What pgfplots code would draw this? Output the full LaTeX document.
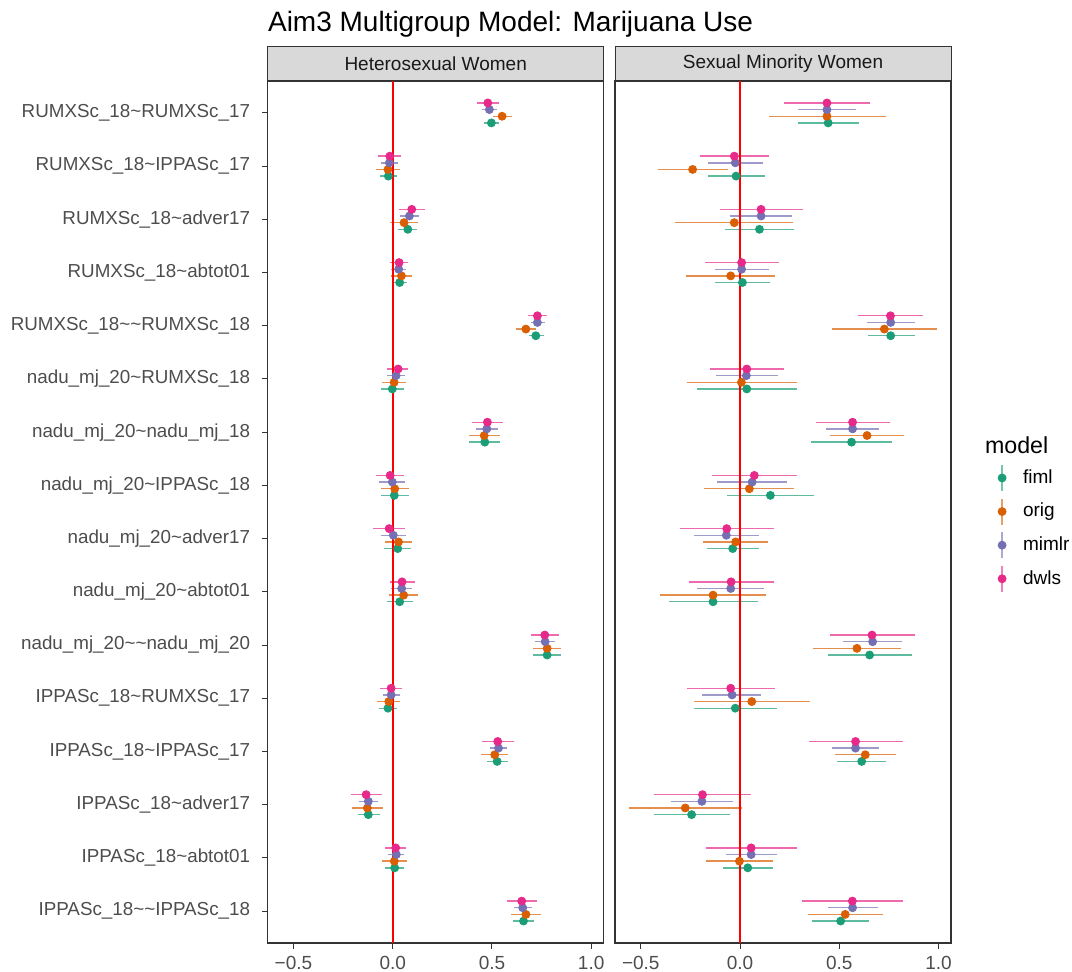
\documentclass[border=0pt]{standalone}
\usepackage{pgfplots}
\pgfplotsset{compat=1.18}
\usepackage{pgfplotstable}
\usepackage{fontspec}
\setmainfont{Liberation Sans}
\definecolor{cfiml}{HTML}{1B9E77}
\definecolor{corig}{HTML}{D95F02}
\definecolor{cmimlr}{HTML}{7570B3}
\definecolor{cdwls}{HTML}{E7298A}
\definecolor{gthirty}{HTML}{4D4D4D}
\definecolor{gtwenty}{HTML}{333333}
\definecolor{stripfill}{HTML}{D9D9D9}

% Heterosexual Women
\pgfplotstableread{
row fx flo fhi ox olo ohi mx mlo mhi dx dlo dhi
1 0.497 0.459 0.536 0.551 0.504 0.600 0.487 0.449 0.526 0.479 0.425 0.534
2 -0.022 -0.064 0.022 -0.024 -0.084 0.039 -0.017 -0.059 0.029 -0.015 -0.074 0.042
3 0.076 0.029 0.124 0.057 -0.013 0.129 0.084 0.035 0.134 0.096 0.030 0.163
4 0.035 -0.005 0.074 0.044 -0.008 0.099 0.030 -0.010 0.066 0.032 -0.015 0.079
5 0.721 0.686 0.760 0.671 0.620 0.723 0.729 0.696 0.766 0.729 0.681 0.778
6 -0.002 -0.061 0.059 0.007 -0.054 0.069 0.017 -0.030 0.064 0.027 -0.029 0.079
7 0.464 0.385 0.543 0.461 0.382 0.539 0.474 0.418 0.529 0.477 0.398 0.555
8 0.008 -0.061 0.081 0.010 -0.061 0.081 -0.002 -0.067 0.064 -0.013 -0.086 0.059
9 0.025 -0.044 0.092 0.029 -0.040 0.097 0.003 -0.061 0.069 -0.018 -0.099 0.064
10 0.035 -0.030 0.103 0.055 -0.018 0.129 0.045 -0.010 0.099 0.047 -0.015 0.111
11 0.778 0.708 0.850 0.778 0.708 0.850 0.768 0.718 0.820 0.766 0.696 0.839
12 -0.024 -0.069 0.022 -0.020 -0.081 0.039 -0.008 -0.050 0.037 -0.008 -0.064 0.049
13 0.526 0.474 0.580 0.514 0.445 0.583 0.533 0.491 0.575 0.529 0.452 0.610
14 -0.123 -0.176 -0.066 -0.128 -0.205 -0.047 -0.123 -0.170 -0.072 -0.134 -0.210 -0.055
15 0.010 -0.037 0.059 0.008 -0.055 0.074 0.018 -0.025 0.059 0.015 -0.040 0.069
16 0.659 0.605 0.714 0.671 0.598 0.746 0.655 0.610 0.701 0.650 0.576 0.726
}\hetero

% Sexual Minority Women
\pgfplotstableread{
row fx flo fhi ox olo ohi mx mlo mhi dx dlo dhi
1 0.444 0.290 0.598 0.438 0.145 0.734 0.438 0.291 0.584 0.438 0.221 0.655
2 -0.020 -0.162 0.125 -0.239 -0.414 -0.062 -0.024 -0.162 0.118 -0.029 -0.204 0.148
3 0.098 -0.076 0.273 -0.029 -0.328 0.269 0.106 -0.049 0.261 0.106 -0.103 0.316
4 0.012 -0.128 0.150 -0.047 -0.273 0.178 0.008 -0.126 0.146 0.008 -0.177 0.194
5 0.759 0.645 0.880 0.727 0.463 0.992 0.759 0.640 0.882 0.758 0.596 0.923
6 0.034 -0.219 0.288 0.007 -0.269 0.285 0.032 -0.123 0.189 0.034 -0.152 0.222
7 0.562 0.357 0.768 0.640 0.453 0.825 0.567 0.434 0.700 0.567 0.382 0.754
8 0.153 -0.066 0.374 0.047 -0.182 0.274 0.061 -0.114 0.236 0.072 -0.141 0.285
9 -0.037 -0.167 0.096 -0.022 -0.187 0.143 -0.069 -0.234 0.096 -0.067 -0.305 0.172
10 -0.136 -0.360 0.088 -0.136 -0.404 0.131 -0.047 -0.217 0.123 -0.045 -0.259 0.170
11 0.653 0.443 0.864 0.589 0.367 0.810 0.668 0.519 0.818 0.665 0.453 0.880
12 -0.024 -0.232 0.185 0.059 -0.232 0.352 -0.040 -0.190 0.108 -0.047 -0.268 0.177
13 0.613 0.490 0.737 0.631 0.476 0.786 0.582 0.463 0.702 0.582 0.347 0.820
14 -0.244 -0.436 -0.049 -0.276 -0.557 0.010 -0.192 -0.348 -0.034 -0.189 -0.431 0.056
15 0.039 -0.088 0.168 -0.003 -0.173 0.168 0.056 -0.072 0.184 0.056 -0.173 0.285
16 0.507 0.364 0.650 0.530 0.342 0.721 0.567 0.441 0.694 0.566 0.313 0.820
}\minority

\pgfplotsset{
  facet/.style={
    scale only axis, width=168pt, height=431pt,
    xmin=-0.63, xmax=1.063, ymin=0.4, ymax=16.6, y dir=reverse,
    axis line style={draw=gtwenty, line width=0.6pt},
    tick align=outside, major tick length=3pt,
    xtick pos=bottom, ytick pos=left,
    tick style={draw=gtwenty, line width=0.5pt},
    xtick={-0.5,0,0.5,1}, xticklabels={−0.5,0.0,0.5,1.0},
    ticklabel style={font=\fontsize{9.5}{11}\selectfont, text=gthirty},
    every axis title/.style={at={(0.5,1)}, anchor=south, fill=stripfill, draw=gtwenty,
      line width=0.5pt, minimum width=168pt, minimum height=17pt, inner sep=0pt,
      font=\fontsize{9.5}{11}\selectfont, text=black!90},
  },
  leg/.style={legend image code/.code={%
    \draw[#1, opacity=0.6, line width=0.7pt] (0pt,-6.5pt) -- (0pt,6.5pt);
    \fill[#1] (0pt,0pt) circle (2pt);}},
  pr/.style={only marks, mark=*, mark size=2pt, color=#1,
    error bars/.cd, x dir=both, x explicit, error mark=none,
    error bar style={line width=0.7pt, opacity=0.7}},
}
% #1 table, #2 x col, #3 lo col, #4 hi col, #5 offset, #6 color
\newcommand{\series}[6]{%
  \addplot[pr=#6] table[x=#2, y expr=\thisrow{row}+#5,
      x error minus expr=\thisrow{#2}-\thisrow{#3},
      x error plus expr=\thisrow{#4}-\thisrow{#2}] {#1};
}
\newcommand{\seriesl}[6]{%
  \addplot[leg=#6, pr=#6] table[x=#2, y expr=\thisrow{row}+#5,
      x error minus expr=\thisrow{#2}-\thisrow{#3},
      x error plus expr=\thisrow{#4}-\thisrow{#2}] {#1};
}

\begin{document}
\begin{tikzpicture}
\useasboundingbox (-133.85pt,-14.5pt) rectangle (402.15pt,471.5pt);
\begin{axis}[facet, at={(0pt,0pt)}, anchor=south west,
  title={Heterosexual Women},
  ytick={1,...,16},
  yticklabel style={font=\fontsize{9.4}{11}\selectfont, xshift=-2.3pt},
  yticklabels={
    RUMXSc\_18\textasciitilde RUMXSc\_17,
    RUMXSc\_18\textasciitilde IPPASc\_17,
    RUMXSc\_18\textasciitilde adver17,
    RUMXSc\_18\textasciitilde abtot01,
    RUMXSc\_18\textasciitilde\textasciitilde RUMXSc\_18,
    nadu\_mj\_20\textasciitilde RUMXSc\_18,
    nadu\_mj\_20\textasciitilde nadu\_mj\_18,
    nadu\_mj\_20\textasciitilde IPPASc\_18,
    nadu\_mj\_20\textasciitilde adver17,
    nadu\_mj\_20\textasciitilde abtot01,
    nadu\_mj\_20\textasciitilde\textasciitilde nadu\_mj\_20,
    IPPASc\_18\textasciitilde RUMXSc\_17,
    IPPASc\_18\textasciitilde IPPASc\_17,
    IPPASc\_18\textasciitilde adver17,
    IPPASc\_18\textasciitilde abtot01,
    IPPASc\_18\textasciitilde\textasciitilde IPPASc\_18},
]
\series{\hetero}{fx}{flo}{fhi}{0.1875}{cfiml}
\series{\hetero}{ox}{olo}{ohi}{0.0625}{corig}
\series{\hetero}{mx}{mlo}{mhi}{-0.0625}{cmimlr}
\series{\hetero}{dx}{dlo}{dhi}{-0.1875}{cdwls}
\addplot[red, line width=1.1pt, forget plot] coordinates {(0,0.4) (0,16.6)};
\end{axis}

\begin{axis}[facet, at={(173.65pt,0pt)}, anchor=south west,
  title={Sexual Minority Women},
  ytick=\empty,
  legend cell align=left,
  legend style={name=leg, at={(axis description cs:1,0.481)}, anchor=west, xshift=23.35pt,
    draw=none, fill=none, inner sep=0pt, outer sep=0pt, row sep=3.1pt, column sep=8.3pt,
    font=\fontsize{9.5}{11}\selectfont, text=black,
    nodes={inner sep=0pt}},
]
\seriesl{\minority}{fx}{flo}{fhi}{0.1875}{cfiml}
\addlegendentry{fiml}
\seriesl{\minority}{ox}{olo}{ohi}{0.0625}{corig}
\addlegendentry{orig}
\seriesl{\minority}{mx}{mlo}{mhi}{-0.0625}{cmimlr}
\addlegendentry{mimlr}
\seriesl{\minority}{dx}{dlo}{dhi}{-0.1875}{cdwls}
\addlegendentry{dwls}
\addplot[red, line width=1.1pt, forget plot] coordinates {(0,0.4) (0,16.6)};
\end{axis}

\node[anchor=west, font=\fontsize{11.6}{13}\selectfont, inner sep=0pt] at ([xshift=-6.5pt, yshift=9.5pt]leg.north west) {model};
\node[anchor=base west, font=\fontsize{14}{16}\selectfont, inner sep=0pt] at (0pt,455.8pt) {Aim3 Multigroup Model: Marijuana Use};
\end{tikzpicture}
\end{document}
